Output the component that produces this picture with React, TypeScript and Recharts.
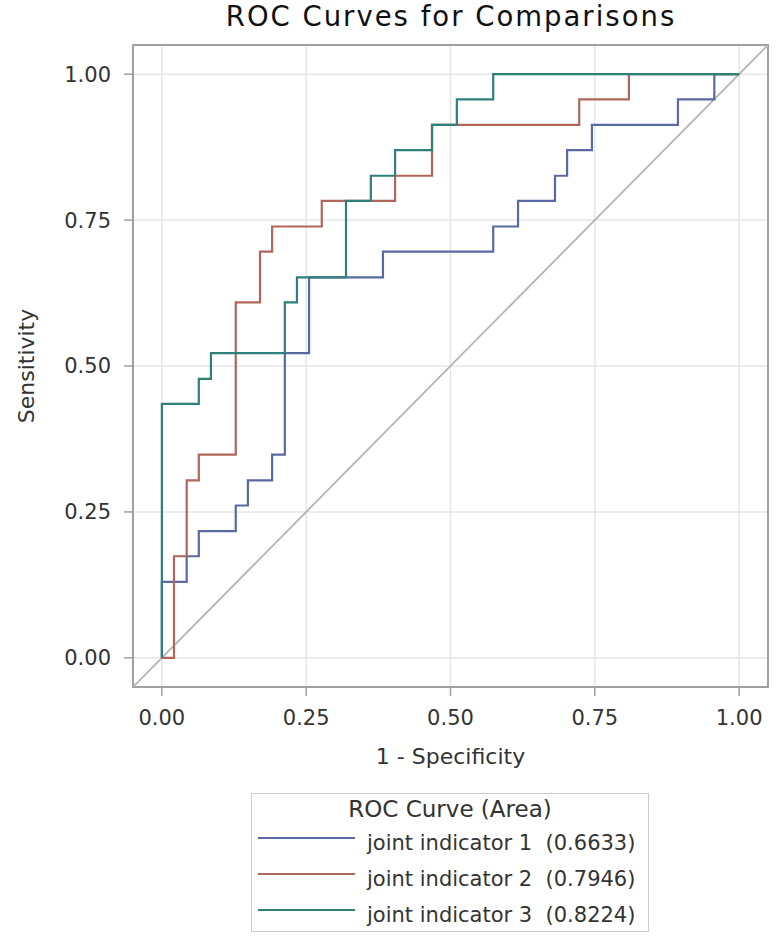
import React from 'react';
import {
  LineChart,
  Line,
  XAxis,
  YAxis,
  CartesianGrid,
  ReferenceArea,
} from 'recharts';

// ---- data ----
const axisTicks = [0, 0.25, 0.5, 0.75, 1];
const axisDomain = [-0.05, 1.05];

// joint indicator 1 (corner points, step-after)
const fpr1 = [0, 0, 0.043, 0.064, 0.128, 0.149, 0.191, 0.213, 0.255, 0.383, 0.574, 0.617, 0.681, 0.702, 0.745, 0.894, 0.957, 1.0];
const tpr1 = [0, 0.130, 0.174, 0.217, 0.261, 0.304, 0.348, 0.522, 0.652, 0.696, 0.739, 0.783, 0.826, 0.870, 0.913, 0.957, 1.0, 1.0];

// joint indicator 2
const fpr2 = [0, 0.021, 0.043, 0.064, 0.128, 0.170, 0.191, 0.277, 0.404, 0.468, 0.723, 0.809, 1.0];
const tpr2 = [0, 0.174, 0.304, 0.348, 0.609, 0.696, 0.739, 0.783, 0.826, 0.913, 0.957, 1.0, 1.0];

// joint indicator 3
const fpr3 = [0, 0, 0.064, 0.085, 0.213, 0.234, 0.319, 0.362, 0.404, 0.468, 0.511, 0.574, 1.0];
const tpr3 = [0, 0.435, 0.478, 0.522, 0.609, 0.652, 0.783, 0.826, 0.870, 0.913, 0.957, 1.0, 1.0];

// chance diagonal
const diagX = [-0.05, 1.05];
const diagY = [-0.05, 1.05];

const seriesNames = ['joint indicator 1', 'joint indicator 2', 'joint indicator 3'];
const seriesAreas = ['0.6633', '0.7946', '0.8224'];
const seriesColors = ['#5a68a4', '#b0665a', '#2f8079'];

const zip = (xs: number[], ys: number[]) => xs.map((x, i) => ({ x, y: ys[i] }));

const seriesData = [zip(fpr1, tpr1), zip(fpr2, tpr2), zip(fpr3, tpr3)];
const diagData = zip(diagX, diagY);

const FONT = 'DejaVu Sans';

export default function App() {
  return (
    <div style={{ position: 'absolute', left: 0, top: 0, width: 779, height: 940, background: '#fff' }}>
      <svg width={779} height={42} style={{ position: 'absolute', left: 0, top: 0 }}>
        <text
          x={451}
          y={26}
          textAnchor="middle"
          fontFamily={FONT}
          fontSize={27.5}
          letterSpacing={2}
          fill="#111"
        >
          ROC Curves for Comparisons
        </text>
      </svg>

      <div style={{ position: 'absolute', left: 0, top: 0 }}>
        <LineChart width={779} height={790} margin={{ top: 45, right: 11, bottom: 0, left: 0 }}>
          <CartesianGrid stroke="#e6e6e6" strokeWidth={1.5} />
          <XAxis
            type="number"
            dataKey="x"
            domain={axisDomain}
            ticks={axisTicks}
            allowDataOverflow
            tickFormatter={(v: number) => v.toFixed(2)}
            axisLine={false}
            tickLine={{ stroke: '#a0a0a0', strokeWidth: 1.5 }}
            tickSize={9}
            tickMargin={14}
            height={103}
            tick={{ fontFamily: FONT, fontSize: 21, fill: '#333' }}
            label={{
              content: (p: any) => {
                const vb = p.viewBox || {};
                return (
                  <text
                    x={vb.x + vb.width / 2}
                    y={vb.y + 77}
                    textAnchor="middle"
                    fontFamily={FONT}
                    fontSize={22}
                    fill="#333"
                  >
                    1 - Specificity
                  </text>
                );
              },
            }}
          />
          <YAxis
            type="number"
            dataKey="y"
            domain={axisDomain}
            ticks={axisTicks}
            allowDataOverflow
            tickFormatter={(v: number) => v.toFixed(2)}
            axisLine={false}
            tickLine={{ stroke: '#a0a0a0', strokeWidth: 1.5 }}
            tickSize={9}
            tickMargin={13}
            width={133}
            tick={{ fontFamily: FONT, fontSize: 21, fill: '#333' }}
            label={{
              content: (p: any) => {
                const vb = p.viewBox || {};
                const cx = vb.x + 26;
                const cy = vb.y + vb.height / 2;
                return (
                  <text
                    x={cx}
                    y={cy}
                    dy="0.36em"
                    transform={`rotate(-90, ${cx}, ${cy})`}
                    textAnchor="middle"
                    fontFamily={FONT}
                    fontSize={22}
                    fill="#333"
                  >
                    Sensitivity
                  </text>
                );
              },
            }}
          />
          <Line
            data={diagData}
            dataKey="y"
            type="linear"
            stroke="#b4b4b4"
            strokeWidth={1.8}
            dot={false}
            activeDot={false}
            isAnimationActive={false}
          />
          {seriesData.map((d, i) => (
            <Line
              key={seriesNames[i]}
              data={d}
              dataKey="y"
              name={seriesNames[i]}
              type="stepAfter"
              stroke={seriesColors[i]}
              strokeWidth={2.2}
              dot={false}
              activeDot={false}
              isAnimationActive={false}
            />
          ))}
          <ReferenceArea
            x1={axisDomain[0]}
            x2={axisDomain[1]}
            y1={axisDomain[0]}
            y2={axisDomain[1]}
            fill="none"
            fillOpacity={0}
            stroke="#a0a0a0"
            strokeWidth={2}
            ifOverflow="visible"
          />
        </LineChart>
      </div>

      <svg width={399} height={140} style={{ position: 'absolute', left: 251, top: 793 }}>
        <rect x={0.5} y={0.5} width={397} height={138} fill="#fff" stroke="#cccccc" strokeWidth={1} />
        <text x={199} y={23.5} textAnchor="middle" fontFamily={FONT} fontSize={23} fill="#333">
          ROC Curve (Area)
        </text>
        {seriesNames.map((n, i) => (
          <g key={n}>
            <line x1={7} x2={104} y1={45 + i * 36} y2={45 + i * 36} stroke={seriesColors[i]} strokeWidth={2} />
            <text
              x={116}
              y={57 + i * 36}
              fontFamily={FONT}
              fontSize={21}
              fill="#333"
              style={{ whiteSpace: 'pre' }}
            >
              {`${n}  (${seriesAreas[i]})`}
            </text>
          </g>
        ))}
      </svg>
    </div>
  );
}
